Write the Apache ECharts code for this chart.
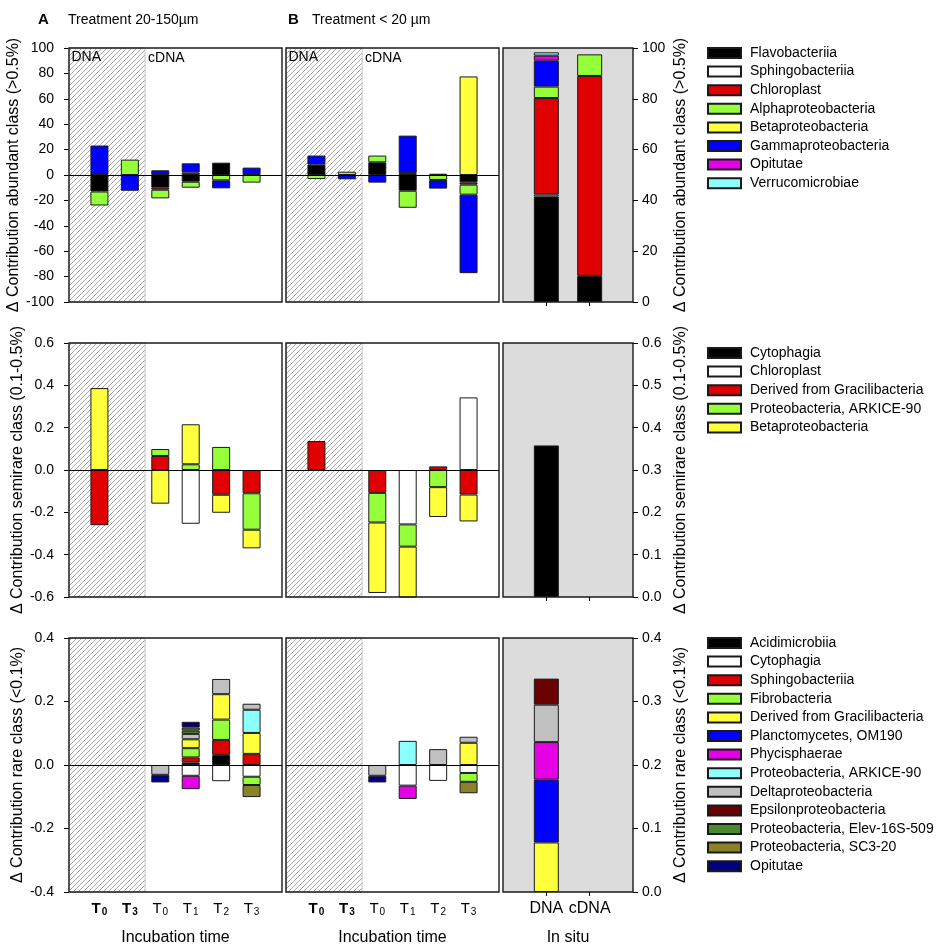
<!DOCTYPE html>
<html><head><meta charset="utf-8">
<script src="https://cdn.jsdelivr.net/npm/echarts@6/dist/echarts.min.js"></script>
<style>html,body{margin:0;padding:0;background:#fff}#c{width:952px;height:946px}</style>
</head><body><div id="c"></div>
<script>
// ================= DATA =================
const timeLabels = ['T0', 'T3', 'T0', 'T1', 'T2', 'T3'];
const timePhase = ['DNA', 'DNA', 'cDNA', 'cDNA', 'cDNA', 'cDNA'];
const inSituLabels = ['DNA', 'cDNA'];

// --- abundant class (>0.5%) ---
const abundantClasses = ['Flavobacteriia', 'Sphingobacteriia', 'Chloroplast', 'Alphaproteobacteria',
  'Betaproteobacteria', 'Gammaproteobacteria', 'Opitutae', 'Verrucomicrobiae'];
const abundantColors = ['#000000', '#ffffff', '#e00000', '#96ff3c', '#ffff3c', '#0000ff', '#e600e6', '#8cffff'];
const abundantA = [
  [-13, null, -10, -5.3, 9.7, null],
  [null, null, null, null, null, null],
  [null, null, -1.6, 2, null, null],
  [-11, 12.1, -6.8, -4.7, -4.2, -6],
  [null, null, null, null, null, null],
  [23.2, -12.4, 3.7, 7.2, -6.3, 5.8],
  [null, null, null, null, null, null],
  [null, null, null, null, null, null]
];
const abundantB = [
  [8.2, null, 10, -12.4, 1, -5.8],
  [null, null, null, null, null, null],
  [null, null, null, 1.5, null, -1.8],
  [-3.2, 2.6, 5.3, -13.4, -3.9, -7.9],
  [null, null, null, null, null, 77.6],
  [7.1, -3.4, -6, 29.5, -6.8, -61.8],
  [null, null, null, null, null, null],
  [null, null, null, null, null, null]
];
const abundantInSitu = [
  [41.5, 10.3], [0.8, null], [38, 78.7], [4.5, 8.5],
  [null, null], [10.2, null], [2, null], [1.3, null]
];
const abundantLeftAxis = [-100, 100, 20];
const abundantRightAxis = [0, 100, 20];

// --- semirare class (0.1-0.5%) ---
const semirareClasses = ['Cytophagia', 'Chloroplast', 'Derived from Gracilibacteria',
  'Proteobacteria, ARKICE-90', 'Betaproteobacteria'];
const semirareColors = ['#000000', '#ffffff', '#e00000', '#96ff3c', '#ffff3c'];
const semirareA = [
  [null, null, null, null, null, null],
  [null, null, null, -0.254, null, null],
  [-0.261, null, 0.066, null, -0.117, -0.110],
  [null, null, 0.033, 0.027, 0.109, -0.172],
  [0.387, null, -0.159, 0.189, -0.085, -0.088]
];
const semirareB = [
  [null, null, null, null, null, null],
  [null, null, null, -0.257, null, 0.343],
  [0.137, null, -0.108, null, 0.017, -0.116],
  [null, null, -0.140, -0.105, -0.081, null],
  [null, null, -0.333, -0.241, -0.141, -0.127]
];
const semirareInSitu = [[0.358, null], [null, null], [null, null], [null, null], [null, null]];
const semirareLeftAxis = [-0.6, 0.6, 0.2];
const semirareRightAxis = [0, 0.6, 0.1];

// --- rare class (<0.1%) ---
const rareClasses = ['Acidimicrobiia', 'Cytophagia', 'Sphingobacteriia', 'Fibrobacteria',
  'Derived from Gracilibacteria', 'Planctomycetes, OM190', 'Phycisphaerae', 'Proteobacteria, ARKICE-90',
  'Deltaproteobacteria', 'Epsilonproteobacteria', 'Proteobacteria, Elev-16S-509', 'Proteobacteria, SC3-20', 'Opitutae'];
const rareColors = ['#000000', '#ffffff', '#e00000', '#96ff3c', '#ffff3c', '#0000ff', '#e600e6', '#8cffff',
  '#c0c0c0', '#6b0000', '#4a8a2c', '#8a8226', '#000080'];
const rareA = [
  [null, null, null, 0.008, 0.032, null],
  [null, null, null, -0.034, -0.051, -0.037],
  [null, null, null, 0.016, 0.047, 0.035],
  [null, null, null, 0.029, 0.064, -0.026],
  [null, null, null, 0.028, 0.080, 0.066],
  [null, null, null, null, null, null],
  [null, null, null, -0.042, null, null],
  [null, null, null, null, null, 0.073],
  [null, null, -0.031, 0.017, 0.048, 0.019],
  [null, null, null, null, null, null],
  [null, null, null, 0.0105, null, null],
  [null, null, null, 0.0095, null, -0.038],
  [null, null, -0.024, 0.018, null, null]
];
const rareB = [
  [null, null, null, null, null, null],
  [null, null, null, -0.065, -0.050, -0.025],
  [null, null, null, null, null, null],
  [null, null, null, null, null, -0.028],
  [null, null, null, null, null, 0.070],
  [null, null, null, null, null, null],
  [null, null, null, -0.042, null, null],
  [null, null, null, 0.076, null, null],
  [null, null, -0.034, null, 0.050, 0.019],
  [null, null, null, null, null, null],
  [null, null, null, null, null, null],
  [null, null, null, null, null, -0.036],
  [null, null, -0.021, null, null, null]
];
const rareInSitu = [
  [null, null], [null, null], [null, null], [null, null], [0.078, null], [0.099, null], [0.059, null],
  [null, null], [0.059, null], [0.041, null], [null, null], [null, null], [null, null]
];
const rareLeftAxis = [-0.4, 0.4, 0.2];
const rareRightAxis = [0, 0.4, 0.1];

const yTitles = ['Δ Contribution abundant class (>0.5%)', 'Δ Contribution semirare class (0.1-0.5%)',
  'Δ Contribution rare class (<0.1%)'];
const panelTitles = [['A', 'Treatment 20-150µm'], ['B', 'Treatment < 20 µm']];

// ================= LAYOUT =================
const FONT = "'Liberation Sans', Arial, Helvetica, sans-serif";
const rowTop = [48, 343, 638], rowH = 254;
const panelLeft = [69, 286, 503], panelW = [213, 213, 130];
const barW = [18, 18, 25];
const legendTop = [46, 346, 636];

function hatchPattern() {
  const s = 5;
  const cv = document.createElement('canvas');
  cv.width = s; cv.height = s;
  const g = cv.getContext('2d');
  g.fillStyle = '#ffffff'; g.fillRect(0, 0, s, s);
  g.strokeStyle = '#a0a0a0'; g.lineWidth = 0.9;
  g.beginPath();
  g.moveTo(0, s); g.lineTo(s, 0);
  g.moveTo(-1, 1); g.lineTo(1, -1);
  g.moveTo(s - 1, s + 1); g.lineTo(s + 1, s - 1);
  g.stroke();
  return cv;
}
const hatch = hatchPattern();

const rows = [
  { classes: abundantClasses, colors: abundantColors, data: [abundantA, abundantB, abundantInSitu], yL: abundantLeftAxis, yR: abundantRightAxis, dec: 0 },
  { classes: semirareClasses, colors: semirareColors, data: [semirareA, semirareB, semirareInSitu], yL: semirareLeftAxis, yR: semirareRightAxis, dec: 1 },
  { classes: rareClasses, colors: rareColors, data: [rareA, rareB, rareInSitu], yL: rareLeftAxis, yR: rareRightAxis, dec: 1 }
];

const zw = r => '\u200b'.repeat(r);
const fmt = (v, d) => { if (Math.abs(v) < 1e-9) v = 0; return d ? v.toFixed(d) : String(Math.round(v)); };
const richT = {
  tb: { fontSize: 15, fontWeight: 'bold', color: '#000', fontFamily: FONT },
  sb: { fontSize: 10, fontWeight: 'bold', color: '#000', fontFamily: FONT, padding: [7, 0, 0, 1] },
  t: { fontSize: 15, color: '#000', fontFamily: FONT },
  s: { fontSize: 10, color: '#000', fontFamily: FONT, padding: [7, 0, 0, 1] }
};
const dnaBoundary = timePhase.filter(p => p === 'DNA').length + 0.5;

// categories padded with an empty slot on each side (panel margin of one step)
const timeCats = ['pad-L'].concat(timeLabels.map((t, i) => timePhase[i] + ' ' + t), ['pad-R']);
const situCats = ['pad-L'].concat(inSituLabels, ['pad-R']);
const timeFormatter = (v, idx) => {
  const i = idx - 1;
  const lab = timeLabels[i];
  if (!lab) return '';
  return timePhase[i] === 'DNA' ? '{tb|' + lab.slice(0, 1) + '}{sb|' + lab.slice(1) + '}'
                                : '{t|' + lab.slice(0, 1) + '}{s|' + lab.slice(1) + '}';
};
const situFormatter = (v, idx) => inSituLabels[idx - 1] || '';

const option = {
  animation: false,
  textStyle: { fontFamily: FONT, color: '#000' },
  grid: [], xAxis: [], yAxis: [], series: [], legend: [], graphic: []
};

rows.forEach((row, r) => {
  for (let p = 0; p < 3; p++) {
    const g = option.grid.length;
    const isSitu = p === 2;
    option.grid.push({
      left: panelLeft[p], top: rowTop[r], width: panelW[p], height: rowH,
      show: true, borderColor: '#1a1a1a', borderWidth: 1.4,
      backgroundColor: isSitu ? '#dcdcdc' : 'transparent',
      z: isSitu ? 0 : 3, outerBoundsMode: 'none'
    });
    const cats = isSitu ? situCats : timeCats;
    const n = cats.length - 2;
    const inner = (idx) => idx > 0 && idx <= n;
    const xi = option.xAxis.length;
    option.xAxis.push({
      type: 'category', gridIndex: g, data: cats, boundaryGap: false,
      axisLine: { show: false }, splitLine: { show: false },
      axisTick: { show: true, interval: inner, length: 4, lineStyle: { color: '#000', width: 1 } },
      axisLabel: {
        show: r === 2, interval: inner, margin: isSitu ? 9 : 8, fontSize: 16, color: '#000',
        formatter: isSitu ? situFormatter : timeFormatter, rich: richT
      },
      name: r === 2 ? (isSitu ? 'In situ' : 'Incubation time') : '',
      nameLocation: 'middle', nameGap: 38, nameTextStyle: { fontSize: 16, color: '#000' }
    });
    const ax = isSitu ? row.yR : row.yL;
    const yi = option.yAxis.length;
    option.yAxis.push({
      type: 'value', gridIndex: g, min: ax[0], max: ax[1], interval: ax[2],
      position: isSitu ? 'right' : 'left',
      axisLine: { show: false }, splitLine: { show: false },
      axisTick: { show: p !== 1, length: 5, lineStyle: { color: '#000', width: 1 } },
      axisLabel: { show: p !== 1, margin: isSitu ? 9 : 15, fontSize: 14, color: '#000', formatter: v => fmt(v, row.dec) },
      name: p !== 1 ? yTitles[r] : '', nameLocation: 'middle', nameGap: isSitu ? 40 : 43,
      nameTextStyle: { fontSize: 16, color: '#000' }
    });
    row.classes.forEach((cls, c) => {
      const vals = row.data[p][c];
      option.series.push({
        type: 'bar', name: cls + zw(r), xAxisIndex: xi, yAxisIndex: yi, stack: 'st' + g,
        barWidth: barW[p], z: 2, silent: true,
        itemStyle: { color: row.colors[c], borderColor: '#1a1a1a', borderWidth: 1 },
        data: ['-'].concat(vals.map(v => v == null ? '-' : v), ['-'])
      });
    });
    if (!isSitu) {
      // hidden numeric companion axis spanning the same slots, for the hatched DNA area
      const xv = option.xAxis.length;
      option.xAxis.push({ type: 'value', gridIndex: g, min: 0, max: n + 1, show: false });
      const areas = [[
        { name: 'DNA', xAxis: 0, itemStyle: { color: { image: hatch, repeat: 'repeat' }, borderColor: '#c4c4c4', borderWidth: 1 } },
        { xAxis: dnaBoundary }
      ]];
      if (r === 0) areas.push([{ name: 'cDNA', xAxis: dnaBoundary, itemStyle: { color: 'rgba(0,0,0,0)', borderWidth: 0 } }, { xAxis: n + 1 }]);
      option.series.push({
        type: 'line', xAxisIndex: xv, yAxisIndex: yi, data: [], z: 1, silent: true, symbol: 'none',
        markArea: {
          silent: true,
          label: { show: r === 0, position: 'insideTopLeft', distance: 3, fontSize: 14, color: '#000' },
          data: areas
        },
        markLine: {
          silent: true, symbol: ['none', 'none'], label: { show: false },
          lineStyle: { color: '#000', width: 1.2, type: 'solid' },
          data: [{ yAxis: 0 }]
        }
      });
    }
  }
  option.legend.push({
    data: row.classes.map(c => c + zw(r)), orient: 'vertical', left: 707, top: legendTop[r], padding: 0,
    itemWidth: 33, itemHeight: 10, itemGap: 4.6, icon: 'rect', selectedMode: false,
    formatter: name => name.replace(/\u200b/g, ''),
    textStyle: { fontSize: 14, color: '#000', padding: [0, 0, 0, 4] }
  });
});

panelTitles.forEach((t, i) => {
  const x = [38, 288][i], tx = [68, 312][i];
  option.graphic.push({ type: 'text', left: x, top: 12, style: { text: t[0], fontSize: 15, fontWeight: 'bold', fontFamily: FONT, fill: '#000' } });
  option.graphic.push({ type: 'text', left: tx, top: 13, style: { text: t[1], fontSize: 14, fontFamily: FONT, fill: '#000' } });
});

const chart = echarts.init(document.getElementById('c'), null, { renderer: 'canvas', width: 952, height: 946 });
chart.setOption(option);
</script></body></html>
